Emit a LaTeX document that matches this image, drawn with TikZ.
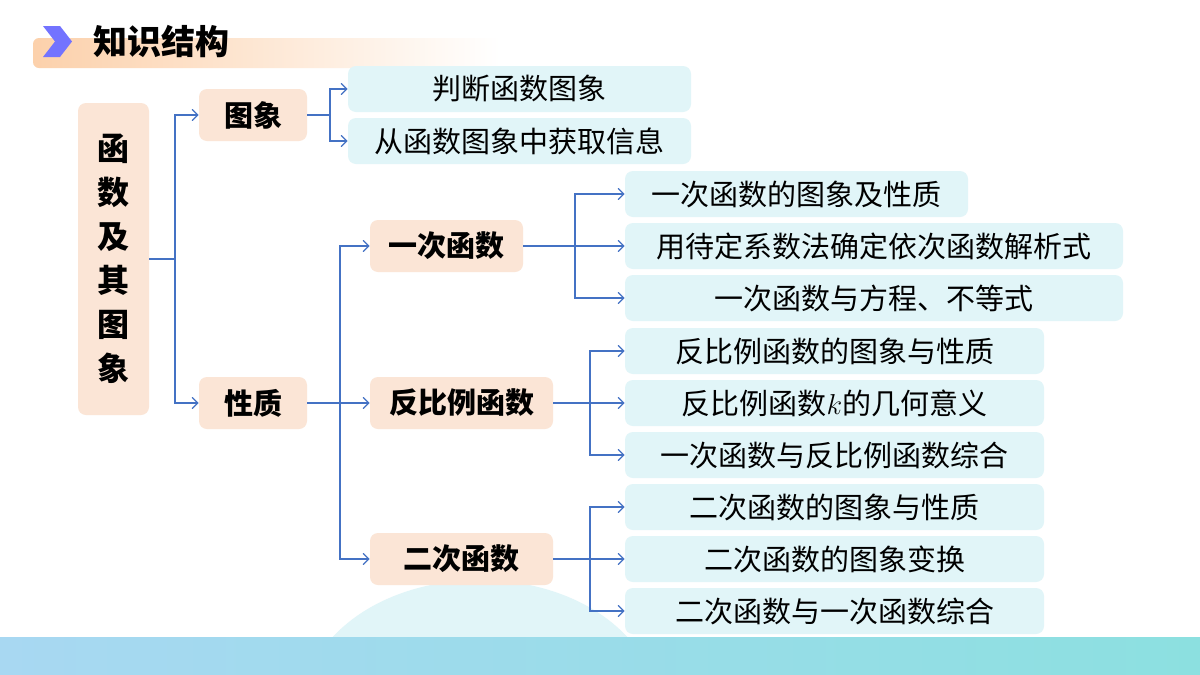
\documentclass[tikz,border=0pt]{standalone}
\usepackage{fontspec}
\setmainfont{Noto Sans CJK SC}
\usetikzlibrary{arrows,calc}
\definecolor{peach}{HTML}{FBE5D6}
\definecolor{ice}{HTML}{E1F5F8}
\definecolor{link}{HTML}{4472C4}
\definecolor{bandl}{HTML}{A8D8F2}
\definecolor{bandr}{HTML}{8CE0E0}
\begin{document}
\begin{tikzpicture}[x=0.5pt,y=-0.5pt]
\tikzstyle{main}=[fill=peach,rounded corners=4pt,inner sep=0pt,font=\fontsize{14.5}{16}\selectfont\bfseries]
\tikzstyle{leaf}=[fill=ice,rounded corners=4pt,inner sep=0pt,font=\fontsize{14.5}{16}\selectfont]
\tikzstyle{conn}=[draw=link,line width=0.6pt]
\tikzstyle{arr}=[conn,->,>=angle 90]
\useasboundingbox (0,0) rectangle (1200,675);
% background
\fill[white] (0,0) rectangle (1200,675);
\fill[ice] (330,640) .. controls (400,560) and (560,560) .. (630,640) -- cycle;
\shade[left color=bandl,right color=bandr] (0,637) rectangle (1200,675);
% title
\shade[left color=peach!80!orange,right color=white,rounded corners=3pt] (33,38) rectangle (500,68);
\fill[blue!55!white] (43,26) -- (60,26) -- (72,41.5) -- (60,57) -- (43,57) -- (55,41.5) -- cycle;
\node[anchor=west,font=\fontsize{17}{19}\selectfont\bfseries] (title) at (86,42) {知识结构};
% boxes
\node[main,minimum width=35.5pt,minimum height=156pt,align=center,font=\fontsize{16}{22}\selectfont\bfseries] (root) at (113.5,259) {函\\数\\及\\其\\图\\象};
\node[main,minimum width=54pt,minimum height=26pt] (tx) at (253,115) {图象};
\node[main,minimum width=54pt,minimum height=26pt] (xz) at (253,403) {性质};
\node[main,minimum width=76.5pt,minimum height=26pt] (yc) at (446.5,246) {一次函数};
\node[main,minimum width=91.5pt,minimum height=26pt] (fb) at (461.5,403) {反比例函数};
\node[main,minimum width=91.5pt,minimum height=26pt] (ec) at (461.5,559) {二次函数};
\node[leaf,minimum width=171.5pt,minimum height=23pt] (l1) at (519.5,89) {判断函数图象};
\node[leaf,minimum width=171.5pt,minimum height=23pt] (l2) at (519.5,141) {从函数图象中获取信息};
\node[leaf,minimum width=171.5pt,minimum height=23pt] (y1) at (796.5,194) {一次函数的图象及性质};
\node[leaf,minimum width=249pt,minimum height=23pt] (y2) at (874,246) {用待定系数法确定依次函数解析式};
\node[leaf,minimum width=249pt,minimum height=23pt] (y3) at (874,298) {一次函数与方程、不等式};
\node[leaf,minimum width=209.5pt,minimum height=23pt] (f1) at (834.5,351) {反比例函数的图象与性质};
\node[leaf,minimum width=209.5pt,minimum height=23pt] (f2) at (834.5,403) {反比例函数$k$的几何意义};
\node[leaf,minimum width=209.5pt,minimum height=23pt] (f3) at (834.5,455) {一次函数与反比例函数综合};
\node[leaf,minimum width=209.5pt,minimum height=23pt] (e1) at (834.5,507) {二次函数的图象与性质};
\node[leaf,minimum width=209.5pt,minimum height=23pt] (e2) at (834.5,559) {二次函数的图象变换};
\node[leaf,minimum width=209.5pt,minimum height=23pt] (e3) at (834.5,611) {二次函数与一次函数综合};
% connectors
\draw[conn] (root.east) -- (175,259);
\foreach \t in {tx,xz} \draw[arr] (175,259) |- (\t.west);
\draw[conn] (tx.east) -- (330,115);
\foreach \t in {l1,l2} \draw[arr] (330,115) |- (\t.west);
\draw[conn] (xz.east) -- (340,403);
\foreach \t in {yc,fb,ec} \draw[arr] (340,403) |- (\t.west);
\draw[conn] (yc.east) -- (575,246);
\foreach \t in {y1,y2,y3} \draw[arr] (575,246) |- (\t.west);
\draw[conn] (fb.east) -- (590,403);
\foreach \t in {f1,f2,f3} \draw[arr] (590,403) |- (\t.west);
\draw[conn] (ec.east) -- (590,559);
\foreach \t in {e1,e2,e3} \draw[arr] (590,559) |- (\t.west);
\end{tikzpicture}
\end{document}
